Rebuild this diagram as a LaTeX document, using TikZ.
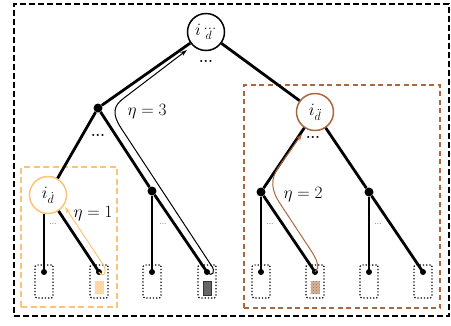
\documentclass[tikz,border=0pt]{standalone}
\usepackage{amsmath}
\usetikzlibrary{arrows.meta,patterns}
\definecolor{myorange}{RGB}{252,196,120}
\definecolor{mybrown}{RGB}{170,104,62}
\begin{document}
\begin{tikzpicture}[x=1pt,y=-1pt,
  edge/.style={line width=2.8pt},
  bigcirc/.style={circle,draw,line width=1.5pt,minimum size=37pt,inner sep=0pt,fill=white,font=\fontsize{17}{20}\selectfont},
  bdot/.style={circle,fill=black,minimum size=9pt,inner sep=0pt},
  ldot/.style={circle,fill=black,minimum size=6pt,inner sep=0pt},
  leafbox/.style={draw,dotted,line width=1.2pt,rounded corners=1.5pt,minimum width=18pt,minimum height=33pt,inner sep=0pt},
  path/.style={line width=1pt,-{Stealth[length=7pt,width=4.5pt]}},
  bigdots/.style={font=\bfseries\Large},
  smalldots/.style={font=\footnotesize},
  lab/.style={font=\fontsize{16}{18}\selectfont}
]
\useasboundingbox (0,0) rectangle (451,325);
% outer frame
\node[draw,line width=1.8pt,dash pattern=on 6pt off 3pt,minimum width=435pt,minimum height=312pt,inner sep=0pt] (frame) at (231.5,160) {};
% highlight boxes
\node[draw=myorange,line width=1.8pt,dash pattern=on 6pt off 3.5pt,minimum width=96pt,minimum height=140pt,inner sep=0pt] (obox) at (69,237) {};
\node[draw=mybrown,line width=1.5pt,dash pattern=on 5pt off 3.5pt,minimum width=196pt,minimum height=223pt,inner sep=0pt] (bbox) at (342,196.5) {};

% leaf boxes
\foreach \i/\x in {1/44,2/99,3/152,4/207,5/261,6/315,7/369,8/423}{
  \node[leafbox] (box\i) at (\x,281.5) {};
  \coordinate (l\i) at (\x,272);
}
% leaf fillings
\fill[myorange!60] (94.5,281) rectangle (103.5,294);
\fill[pattern=crosshatch dots,pattern color=myorange] (94.5,281) rectangle (103.5,294);
\fill[black!60,draw=black!80,line width=0.6pt] (203,281) rectangle (211.5,295);
\fill[mybrown!50] (310.5,281) rectangle (319.5,294);
\fill[pattern=crosshatch dots,pattern color=mybrown] (310.5,281) rectangle (319.5,294);

% internal nodes
\node[bigcirc] (root) at (206,32) {$i_{\dddot{d}}$};
\node[bdot] (a) at (98,108) {};
\node[bigcirc,draw=myorange] (b) at (48,195) {$i_{\dot{d}}$};
\node[bdot] (c) at (152,191) {};
\node[bigcirc,draw=mybrown] (r) at (315,112) {$i_{\ddot{d}}$};
\node[bdot] (d) at (261,192) {};
\node[bdot] (e) at (369,192) {};

% edges
\draw[edge] (root) -- (a);
\draw[edge] (root) -- (r);
\draw[edge] (a) -- (b);
\draw[edge] (a) -- (c);
\draw[edge] (c) -- (l4);
\draw[edge] (c) -- (l3);
\draw[edge] (b.south -| l1) -- (l1);
\draw[edge] (b) -- (l2);
\draw[edge] (r) -- (d);
\draw[edge] (r) -- (e);
\draw[edge] (d) -- (l5);
\draw[edge] (d) -- (l6);
\draw[edge] (e) -- (l7);
\draw[edge] (e) -- (l8);
\foreach \i in {1,...,8}{\node[ldot] at (l\i) {};}

% dots
\node[bigdots] (rd) at (206,61) {...};
\node[bigdots] (ad) at (98,135) {...};
\node[bigdots] (bd) at (313,137) {...};
\node[smalldots] (s1) at (53,224) {...};
\node[smalldots] (s2) at (163,224) {...};
\node[smalldots] (s3) at (270,224) {...};
\node[smalldots] (s4) at (378,224) {...};

% eta paths
\draw[path] (l4) .. controls (213,278) and (216,271) .. (211,265)
  -- (121,128) .. controls (112,114) and (113,106) .. (124,98) -- (187,50);
\draw[path,myorange] (l2) .. controls (104,279) and (107,272) .. (104,266) -- (65,207);
\draw[path,mybrown] (l6) .. controls (320,268) and (318,261) .. (310,249)
  -- (281,205) .. controls (270,189) and (271,179) .. (278,168) -- (302,134);

% labels
\node[lab] (e3) at (147,112) {$\eta = 3$};
\node[lab] (e1) at (93,214) {$\eta = 1$};
\node[lab] (e2) at (303,195) {$\eta = 2$};
\end{tikzpicture}
\end{document}
